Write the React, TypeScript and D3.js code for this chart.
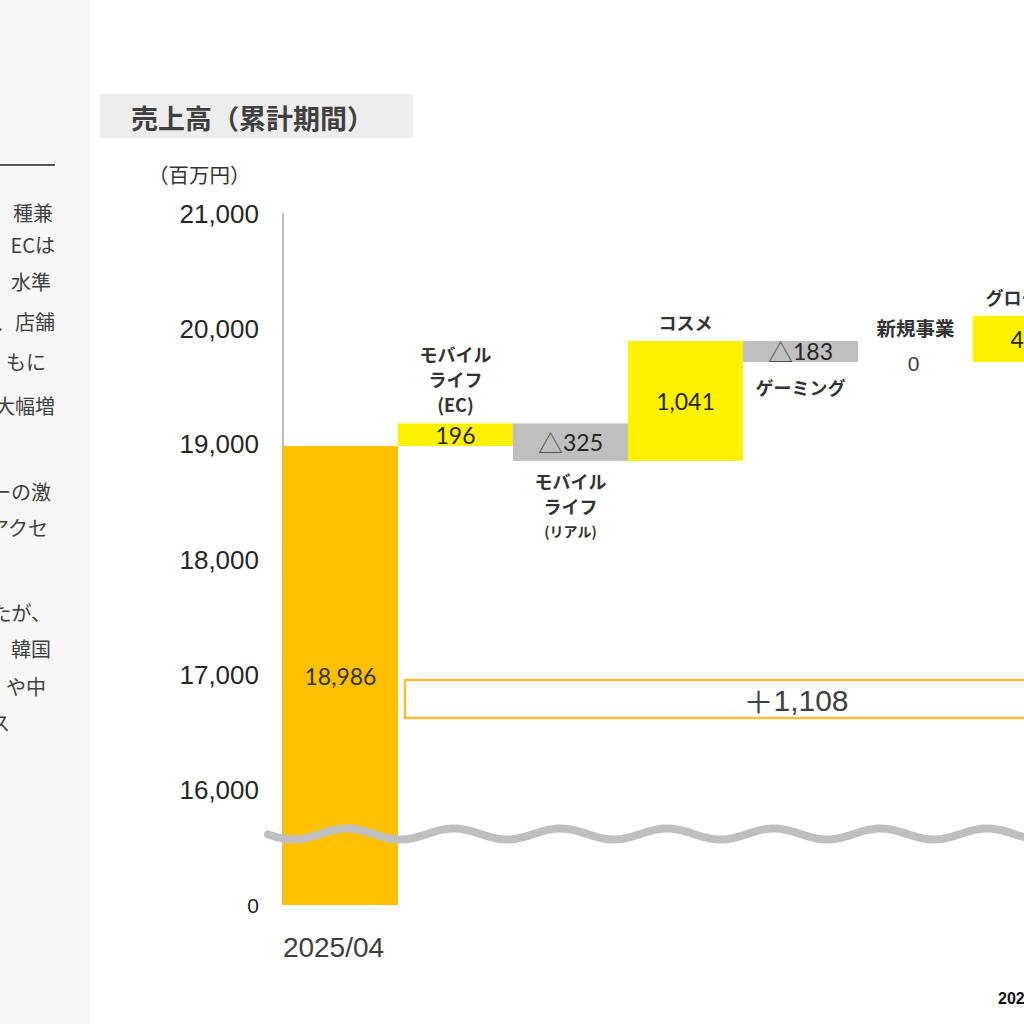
import React from 'react';
import * as d3 from 'd3';

// bridge: 2025/04 sales -> change by segment (百万円)
const categories = ['2025/04', 'モバイル\nライフ\n(EC)', 'モバイル\nライフ\n(リアル)', 'コスメ', 'ゲーミング', '新規事業', 'グローバル'];
const values = [18986, 196, -325, 1041, -183, 0, 402];
const labelSide = ['none', 'above', 'below', 'above', 'below', 'above', 'above'];
const yTicks = [21000, 20000, 19000, 18000, 17000, 16000, 0];
const totalChange = 1108;

const sideNotes = [
  { t: '種兼', y: 212, x: 53 },
  { t: 'ECは', y: 244, x: 55 },
  { t: '水準', y: 281, x: 51 },
  { t: '、店舗', y: 321, x: 55 },
  { t: 'もに', y: 361, x: 46 },
  { t: '大幅増', y: 405, x: 55 },
  { t: 'ーの激', y: 491, x: 51 },
  { t: 'アクセ', y: 527, x: 48 },
  { t: 'たが、', y: 612, x: 51 },
  { t: '韓国', y: 648, x: 51 },
  { t: 'や中', y: 686, x: 46 },
  { t: 'ス', y: 722, x: 10 },
];

const JP = '"Noto Sans CJK JP", sans-serif';
const NUM = 'Lato, "Noto Sans", sans-serif';
const ARIAL = '"Liberation Sans", Arial, sans-serif';

const App: React.FC = () => {
  const width = 1024;
  const height = 1024;

  // broken axis: 0 sits just under the 16,000 line
  const y = d3.scaleLinear().domain([0, 16000, 21000]).range([905, 790, 214]);
  const x = d3.scaleBand<string>()
    .domain(categories)
    .range([283, 283 + 115 * categories.length])
    .padding(0);

  let run = 0;
  const bars = values.map((v, i) => {
    const start = i === 0 ? 0 : run;
    const end = i === 0 ? v : run + v;
    run = end;
    return { cat: categories[i], v, start, end, i };
  });

  const fmt = d3.format(',');
  const fillFor = (b: { v: number; i: number }) =>
    b.i === 0 ? '#FFC000' : b.v >= 0 ? '#FFF100' : '#BFBFBF';

  // squiggle marking the axis break
  const wavePts: [number, number][] = d3.range(268, 1040, 2).map((px) => [
    px,
    834 - 5.5 * Math.cos((2 * Math.PI * (px - 347)) / 106.7),
  ]);
  const wave = d3.line().curve(d3.curveBasis)(wavePts) || '';

  const bw = x.bandwidth();

  return (
    <svg
      width={width}
      height={height}
      style={{ position: 'absolute', left: 0, top: 0, background: '#fff' }}
    >
      {/* left text panel (cropped) */}
      <rect x={0} y={0} width={90} height={height} fill="#F7F7F7" />
      <line x1={0} x2={55} y1={165} y2={165} stroke="#222" strokeWidth={1.5} />
      {sideNotes.map((n) => (
        <text key={n.y} x={n.x} y={n.y} textAnchor="end" dominantBaseline="central"
          fontFamily={JP} fontSize={20} fill="#404040">{n.t}</text>
      ))}

      {/* title */}
      <rect x={100} y={94} width={313} height={44} fill="#EDEDED" />
      <text x={131} y={117} dominantBaseline="central" fontFamily={JP} fontWeight={700}
        fontSize={27} fill="#404040">売上高（累計期間）</text>
      <text x={148} y={174} dominantBaseline="central" fontFamily={JP} fontSize={20.5}
        fill="#333">（百万円）</text>

      {/* y axis */}
      <line x1={283} x2={283} y1={213} y2={y(0)} stroke="#A6A6A6" strokeWidth={1.5} />
      {yTicks.map((t) => (
        <text key={t} x={259} y={y(t)} textAnchor="end" dominantBaseline="central"
          fontFamily={ARIAL} fontSize={t === 0 ? 21 : 26} fill="#262626">{fmt(t)}</text>
      ))}

      {/* bars */}
      {bars.map((b) => {
        const top = y(Math.max(b.start, b.end));
        const bot = y(Math.min(b.start, b.end));
        const x0 = x(b.cat) as number;
        return (
          <rect key={b.cat} x={x0} y={top} width={bw} height={Math.max(0, bot - top)}
            fill={fillFor(b)} />
        );
      })}

      {/* value labels */}
      {bars.map((b) => {
        const top = y(Math.max(b.start, b.end));
        const bot = y(Math.min(b.start, b.end));
        const cx = (x(b.cat) as number) + bw / 2;
        const cy = (top + bot) / 2;
        if (b.i === 0) {
          return (
            <text key={b.cat} x={cx} y={cy} textAnchor="middle" dominantBaseline="central"
              fontFamily={NUM} fontSize={23} fill="#333">{fmt(b.v)}</text>
          );
        }
        if (b.v === 0) {
          return (
            <text key={b.cat} x={cx - 2} y={cy + 1} textAnchor="middle" dominantBaseline="central"
              fontFamily={ARIAL} fontSize={21} fill="#404040">0</text>
          );
        }
        return (
          <text key={b.cat} x={cx} y={cy} textAnchor="middle" dominantBaseline="central"
            fontSize={23} fill="#262626">
            {b.v < 0 && <tspan fontFamily={JP} fontSize={25} fill="#555">△</tspan>}
            <tspan fontFamily={NUM}>{fmt(Math.abs(b.v))}</tspan>
          </text>
        );
      })}

      {/* category labels */}
      {bars.map((b) => {
        const side = labelSide[b.i];
        if (side === 'none') return null;
        const lines = b.cat.split('\n');
        const top = y(Math.max(b.start, b.end));
        const bot = y(Math.min(b.start, b.end));
        const cx = (x(b.cat) as number) + bw / 2;
        const gap = 25;
        const lift = b.v === 0 ? 35 : 19;
        return lines.map((ln, k) => {
          const ly = side === 'above'
            ? top - lift - (lines.length - 1 - k) * gap
            : bot + (b.v < 0 && lines.length === 1 ? 25 : 20) + k * gap;
          const small = ln.startsWith('(') && ln.length > 4;
          const kanji = /[\u4e00-\u9fff]/.test(ln);
          return (
            <text key={b.cat + k} x={cx} y={ly} textAnchor="middle" dominantBaseline="central"
              fontFamily={JP} fontWeight={700} fontSize={small ? 14 : kanji ? 19.5 : 18} fill="#333">
              {ln}
            </text>
          );
        });
      })}

      {/* total change box */}
      <rect x={405} y={680} width={780} height={38} fill="#fff" stroke="#F7BE3C" strokeWidth={2.5} />
      <text x={796} y={700} textAnchor="middle" dominantBaseline="central" fontFamily={ARIAL}
        fontSize={30} fill="#404040">
        <tspan fontFamily={JP}>＋</tspan>{fmt(totalChange)}
      </text>

      {/* axis break */}
      <path d={wave} fill="none" stroke="#BFBFBF" strokeWidth={8} strokeLinecap="round" />

      {/* x label */}
      <text x={(x('2025/04') as number) + bw / 2 - 7} y={947} textAnchor="middle"
        dominantBaseline="central" fontFamily={ARIAL} fontSize={28} fill="#404040">2025/04</text>

      <text x={998} y={998} dominantBaseline="central" fontFamily={ARIAL} fontWeight={700}
        fontSize={16} fill="#111">2026/04</text>
    </svg>
  );
};

export default App;
